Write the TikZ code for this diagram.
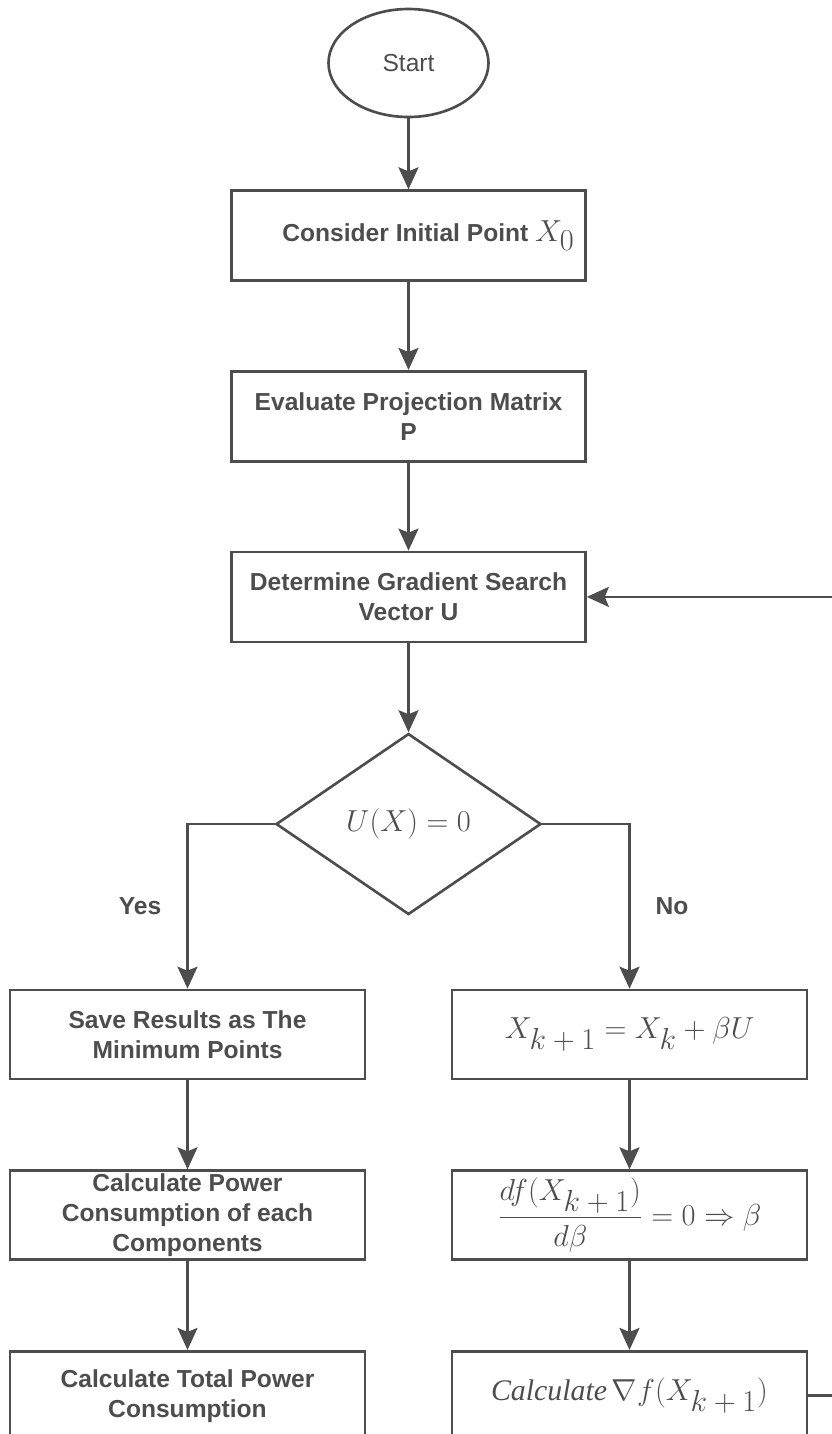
\documentclass[tikz,border=0pt]{standalone}
\usepackage{amsmath}
\usepackage{fontspec}
\setmainfont{Liberation Sans}
\newfontfamily\serifit{Liberation Serif}
\usetikzlibrary{positioning, arrows.meta, shapes.geometric}
\definecolor{ink}{HTML}{4D4D4D}
\newcommand{\Xs}[1]{X_{\textstyle #1}}

\begin{document}
\begin{tikzpicture}[
        every node/.style={font=\fontsize{14}{17}\selectfont, text=ink},
        box/.style={rectangle, draw=ink, line width=1.5pt,
          minimum width=7.08cm, minimum height=1.8cm, inner ysep=1pt,
          align=center, font=\fontsize{14}{17}\selectfont\bfseries},
        sidebox/.style={box, minimum width=7.1cm, minimum height=1.78cm},
        mathbox/.style={sidebox, font=\fontsize{16}{19}\selectfont},
        lbl/.style={font=\fontsize{14}{17}\selectfont\bfseries},
        arr/.style={-{Stealth[length=0.44cm, width=0.4cm, inset=0.08cm]},
          line width=1.5pt, color=ink}]

      \useasboundingbox (0,0) rectangle (16.64,-28.68);

      % main column
      \node[ellipse, draw=ink, line width=1.5pt, minimum width=3.2cm,
        minimum height=2.16cm] (start) at (8.17,-1.26) {Start};
      \node[box, below=1.42cm of start] (init)
        {\hspace*{0.8cm}Consider Initial Point {\fontsize{17}{19}\selectfont$\Xs{0}$}};
      \node[box, below=1.76cm of init] (proj) {Evaluate Projection Matrix\\P};
      \node[box, below=1.76cm of proj] (search) {Determine Gradient Search\\Vector U};
      \node[diamond, draw=ink, line width=1.5pt, minimum width=5.3cm,
        minimum height=3.62cm, below=1.78cm of search,
        font=\fontsize{16}{19}\selectfont] (check) {\raisebox{-0.12cm}{$U(X)=0$}};

      % yes branch
      \node[sidebox] (save) at (3.75,-20.69) {Save Results as The\\Minimum Points};
      \node[sidebox, below=1.78cm of save] (power)
        {Calculate Power\\Consumption of each\\Components};
      \node[sidebox, below=1.78cm of power] (total)
        {Calculate Total Power\\Consumption};

      % no branch
      \node[mathbox] (update) at (12.59,-20.69) {$\Xs{k+1} = \Xs{k} + \beta U$};
      \node[mathbox, below=1.78cm of update] (linesearch)
        {$\dfrac{df(\Xs{k+1})}{d\beta} = 0 \Rightarrow \beta$};
      \node[mathbox, below=1.78cm of linesearch] (grad)
        {{\serifit\itshape\fontsize{17}{19}\selectfont Calculate}\,$\nabla f(\Xs{k+1})$};

      \draw[arr] (start) -- (init);
      \draw[arr] (init) -- (proj);
      \draw[arr] (proj) -- (search);
      \draw[arr] (search) -- (check);
      \draw[arr] (check.west) -| node[pos=0.75, left=0.38cm, lbl] {Yes} (save);
      \draw[arr] (check.east) -| node[pos=0.75, right=0.38cm, lbl] {No} (update);
      \draw[arr] (save) -- (power);
      \draw[arr] (power) -- (total);
      \draw[arr] (update) -- (linesearch);
      \draw[arr] (linesearch) -- (grad);
      \draw[arr] (grad.east) -- ++(1.2,0) |- (search.east);
    \end{tikzpicture}
\end{document}
